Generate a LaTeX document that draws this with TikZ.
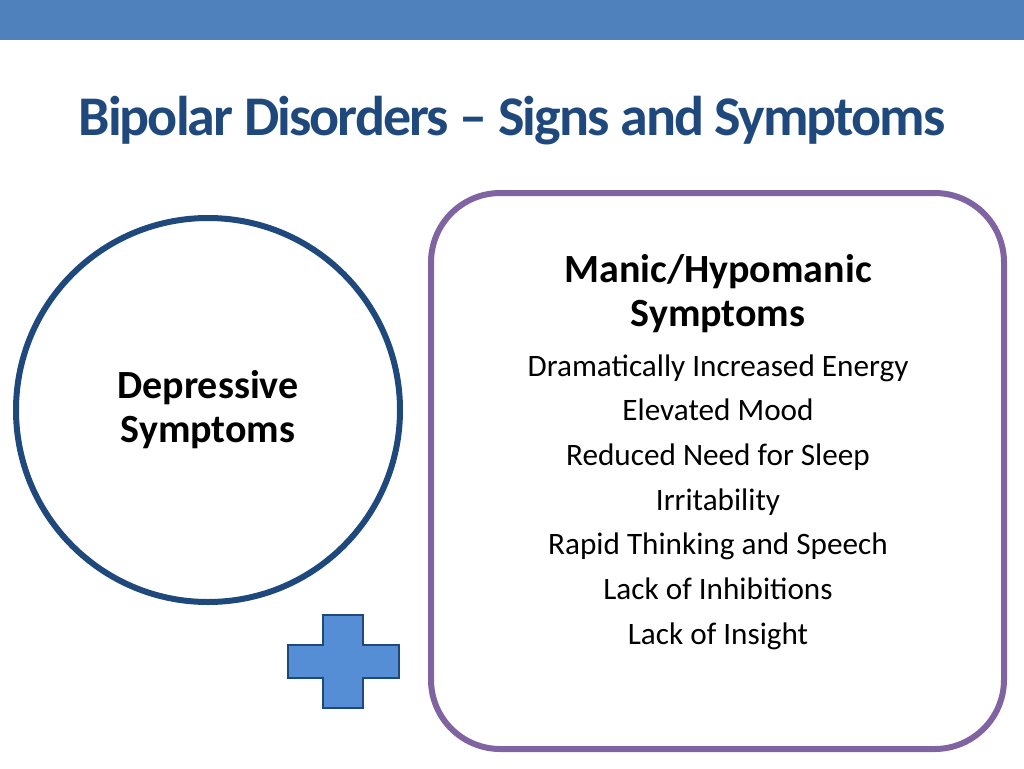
\documentclass[tikz,border=0pt]{standalone}
\usepackage{fontspec}
\setmainfont{Carlito}
\definecolor{barblue}{HTML}{4F81BD}
\definecolor{titleblue}{HTML}{1F497D}
\definecolor{ringblue}{HTML}{1F497D}
\definecolor{boxpurple}{HTML}{8064A2}
\definecolor{plusblue}{HTML}{558ED5}
\tikzset{
  item/.style={font=\fontsize{23.4}{28}\selectfont, anchor=base},
  head/.style={font=\fontsize{30}{33}\selectfont\bfseries, align=center}
}
\begin{document}
\begin{tikzpicture}[x=0.75pt,y=-0.75pt]
    \useasboundingbox (0,0) rectangle (1024,768);
    % top bar
    \fill[barblue] (0,0) rectangle (1024,40);
    % title
    \node[font=\fontsize{42}{46}\selectfont\bfseries\addfontfeature{LetterSpace=-3.5}, text=titleblue] (title) at (512,121) {Bipolar Disorders -- Signs and Symptoms};
    % depressive circle
    \draw[ringblue, line width=4.5pt] (208,410) circle (192);
    \node[head] (dep) at (208,410) {Depressive\\Symptoms};
    % manic box
    \draw[boxpurple, line width=4.5pt, rounded corners=52pt] (431,193) rectangle (1004,749);
    \node[head] (manic) at (718,294) {Manic/Hypomanic\\Symptoms};
    \foreach \t [count=\i from 0] in {Dramatically Increased Energy, Elevated Mood, Reduced Need for Sleep, Irritability, Rapid Thinking and Speech, Lack of Inhibitions, Lack of Insight} {
        \node[item] (m\i) at (718,376+44.7*\i) {\t};
    }
    % plus
    \draw[ringblue, fill=plusblue, line width=2.2pt]
      (323,615) -- (363,615) -- (363,645) -- (399,645) -- (399,678) -- (363,678)
      -- (363,708) -- (323,708) -- (323,678) -- (288,678) -- (288,645) -- (323,645) -- cycle;
\end{tikzpicture}
\end{document}
